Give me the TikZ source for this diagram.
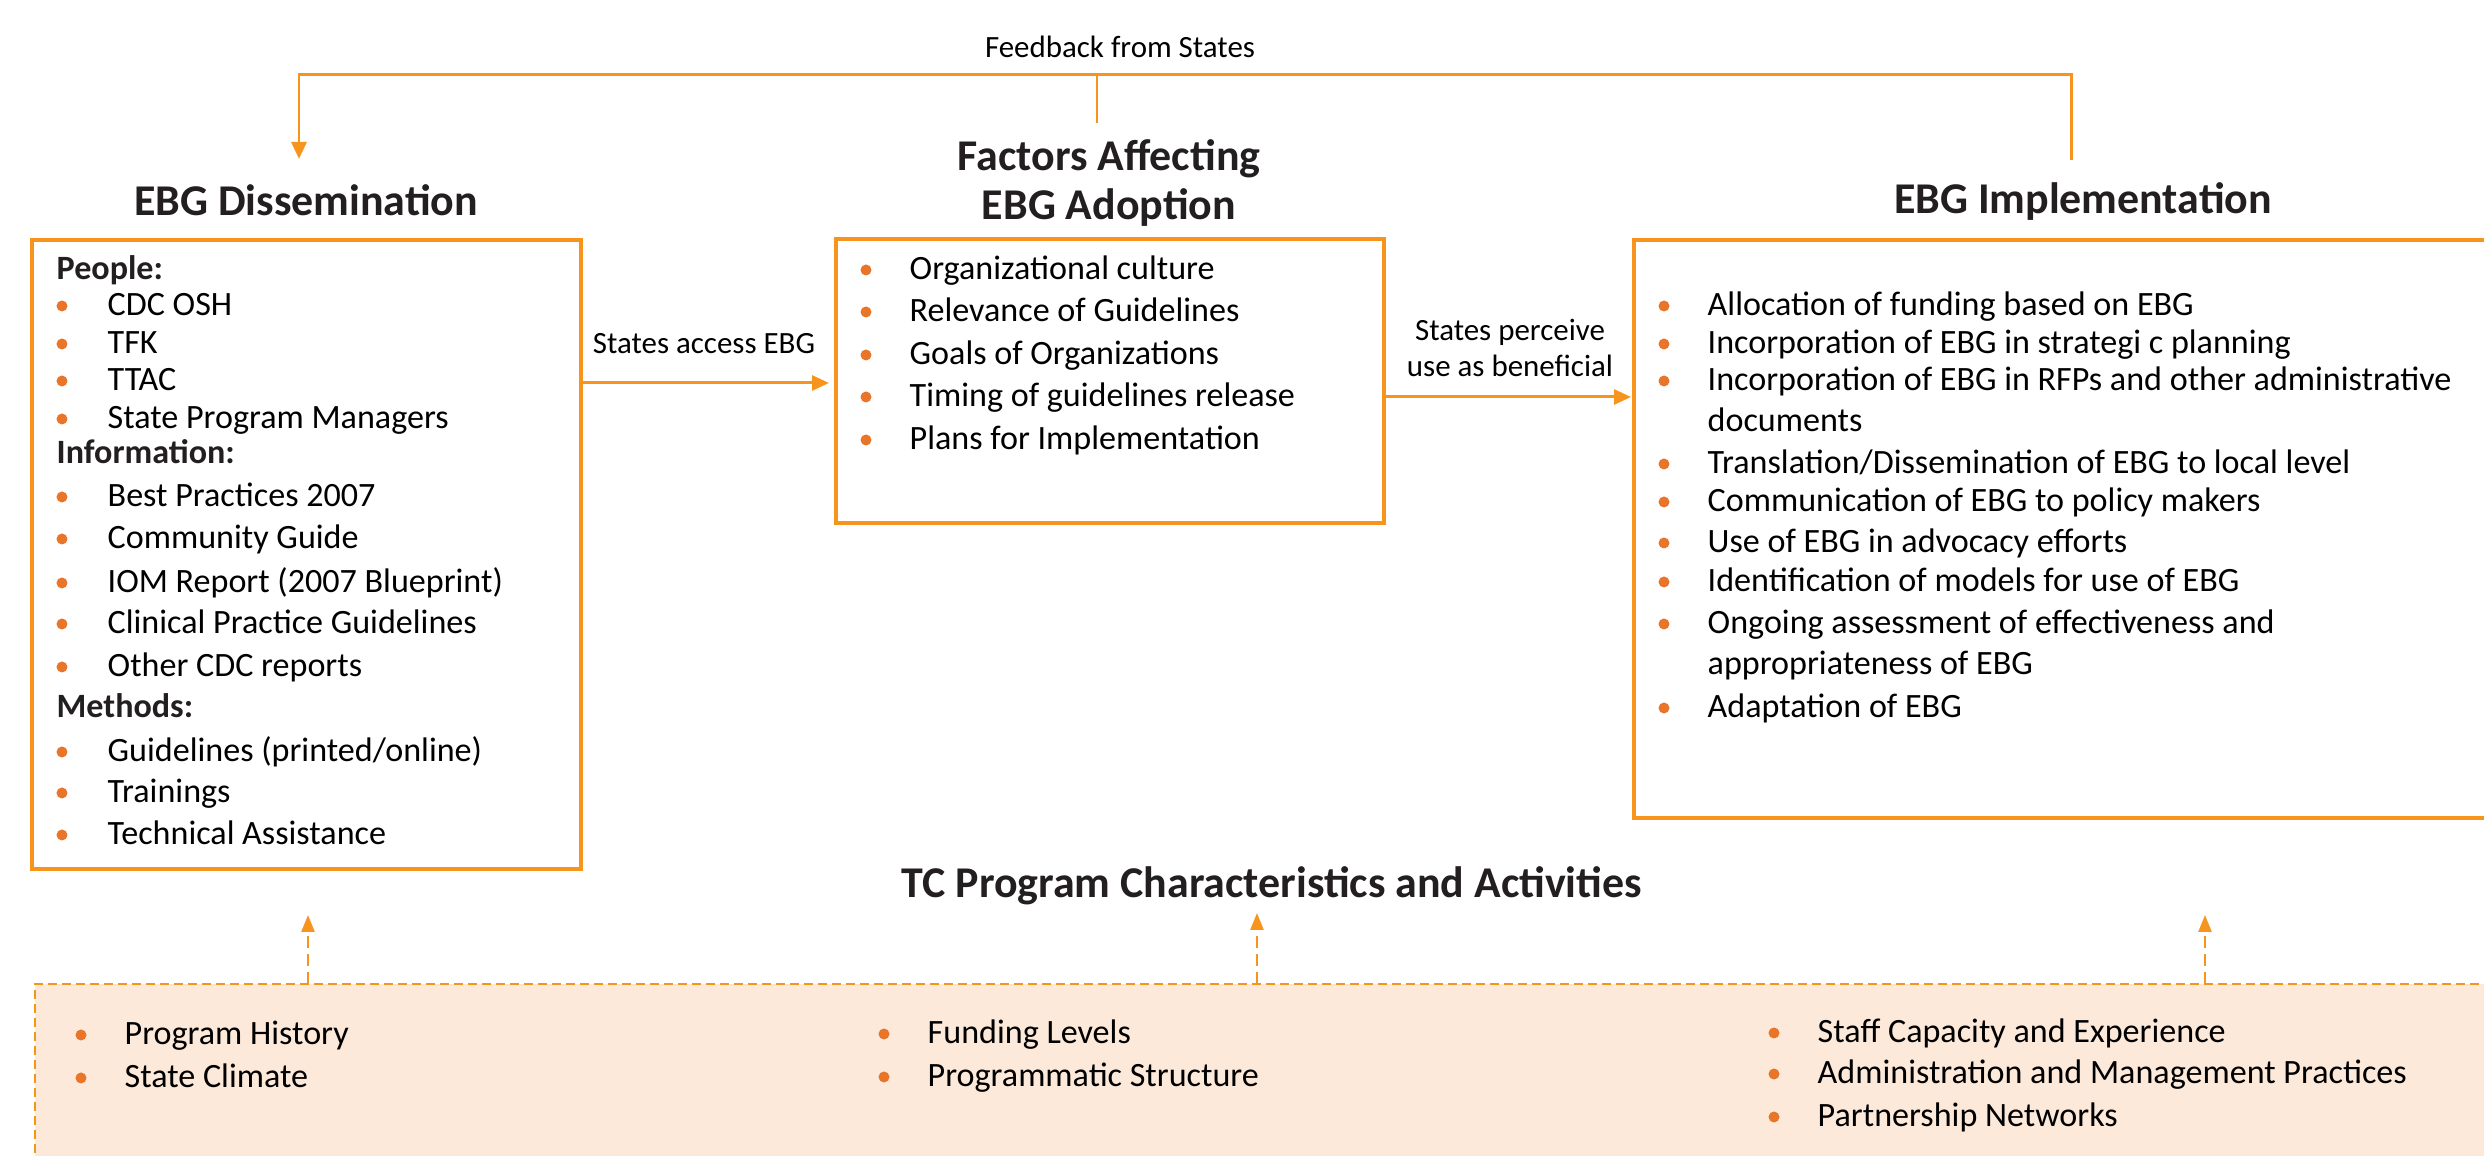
\documentclass[tikz,border=0pt]{standalone}
\usepackage{fontspec}
\setmainfont{Carlito}
\usetikzlibrary{arrows.meta}

\definecolor{ebgorange}{RGB}{247,148,30}
\definecolor{dotorange}{RGB}{232,117,42}
\definecolor{tcfill}{RGB}{252,233,218}
\definecolor{headgray}{RGB}{35,31,32}

\tikzset{
  box/.style={draw=ebgorange, line width=1pt, rectangle, anchor=north west, inner sep=0pt, outer sep=0pt},
  flow/.style={draw=ebgorange, line width=0.85pt, -{Triangle[length=0.17cm,width=0.15cm]}},
  influence/.style={draw=ebgorange, line width=0.75pt, dash pattern=on 0.12cm off 0.06cm,
    -{Triangle[length=0.17cm,width=0.13cm]}},
  heading/.style={font=\fontsize{12.5}{13.9}\selectfont\bfseries, text=headgray, align=center},
  arrowtext/.style={font=\fontsize{8.8}{10.5}\selectfont, align=center},
  listitem/.style={font=\fontsize{9.7}{12}\selectfont, anchor=west, inner sep=0pt,
    text height=0.2cm, text depth=0pt},
  listhead/.style={listitem, font=\fontsize{9.7}{12}\selectfont\bfseries, text=headgray},
  bullet/.style={circle, fill=dotorange, inner sep=0pt, minimum size=0.11cm},
}

\begin{document}
\begin{tikzpicture}
\useasboundingbox (0,0) rectangle (24.84,-11.56);
\clip (0,0) rectangle (24.84,-11.56);

% the three stages
\node[heading] (dissemT) at (3.06,-2.00) {EBG Dissemination};
\node[heading] (adoptT) at (11.09,-1.83) {Factors Affecting\\EBG Adoption};
\node[heading] (implT) at (20.83,-2.02) {EBG Implementation};

\node[box, minimum width=5.49cm, minimum height=6.29cm] (dissem) at (0.32,-2.40) {};
\node[box, minimum width=5.48cm, minimum height=2.84cm] (adopt) at (8.36,-2.39) {};
\node[box, minimum width=9.00cm, minimum height=5.78cm] (impl) at (16.34,-2.40) {};

% dissemination: people, information, methods
\node[listhead] (people) at (0.56,-2.70) {People:};
\node[listhead] (info) at (0.56,-4.54) {Information:};
\node[listhead] (methods) at (0.56,-7.08) {Methods:};
\foreach \y/\t [count=\i] in {3.06/CDC OSH, 3.44/TFK, 3.81/TTAC, 4.19/State Program Managers,
    4.97/Best Practices 2007, 5.39/Community Guide, 5.83/IOM Report (2007 Blueprint),
    6.24/Clinical Practice Guidelines, 6.67/Other CDC reports,
    7.52/{Guidelines (printed/online)}, 7.93/Trainings, 8.35/Technical Assistance}{
  \node[bullet] (disdot\i) at (0.62,-\y) {};
  \node[listitem] (dis\i) at (1.07,-\y) {\t};
}

% adoption factors
\foreach \y/\t [count=\i] in {2.70/Organizational culture, 3.12/Relevance of Guidelines,
    3.55/Goals of Organizations, 3.97/Timing of guidelines release, 4.40/Plans for Implementation}{
  \node[bullet] (adodot\i) at (8.66,-\y) {};
  \node[listitem] (ado\i) at (9.09,-\y) {\t};
}

% implementation activities
\foreach \y [count=\i] in {3.06,3.44,3.81,4.64,5.02,5.43,5.82,6.24,7.08}
  \node[bullet] (impdot\i) at (16.64,-\y) {};
\foreach \y/\t [count=\i] in {3.06/Allocation of funding based on EBG,
    3.44/Incorporation of EBG in strategi c planning,
    3.81/Incorporation of EBG in RFPs and other administrative, 4.22/documents,
    4.64/{Translation/Dissemination of EBG to local level},
    5.02/Communication of EBG to policy makers, 5.43/Use of EBG in advocacy efforts,
    5.82/Identification of models for use of EBG,
    6.24/Ongoing assessment of effectiveness and, 6.65/appropriateness of EBG,
    7.08/Adaptation of EBG}
  \node[listitem] (imp\i) at (17.07,-\y) {\t};

% arrows between the stages
\node[arrowtext] (access) at (7.04,-3.44) {States access EBG};
\draw[flow] (dissem.east |- 0,-3.83) -- ([xshift=-0.07cm]adopt.west |- 0,-3.83);
\node[arrowtext] (perceive) at (15.10,-3.48) {States perceive\\use as beneficial};
\draw[flow] (adopt.east |- 0,-3.97) -- ([xshift=-0.03cm]impl.west |- 0,-3.97);

% feedback loop over the top
\node[arrowtext] (feedback) at (11.20,-0.47) {Feedback from States};
\coordinate (fbR) at (20.71,-1.60);
\coordinate (fbL) at (2.99,-1.59);
\coordinate (fbM) at (10.97,-1.23);
\draw[flow] (fbR) -- (fbR |- 0,-0.75) -| (fbL);
\draw[draw=ebgorange, line width=0.55pt] (fbM) -- (fbM |- 0,-0.75);

% program characteristics underneath
\node[heading] (tcT) at (12.72,-8.86) {TC Program Characteristics and Activities};
\node[box, fill=tcfill, line width=0.75pt, dash pattern=on 0.09cm off 0.05cm,
  minimum width=25cm, minimum height=3cm] (tcbox) at (0.35,-9.84) {};

\foreach \y/\t [count=\i] in {10.35/Program History, 10.78/State Climate}{
  \node[bullet] (tcadot\i) at (0.81,-\y) {};
  \node[listitem] (tca\i) at (1.24,-\y) {\t};
}
\foreach \y/\t [count=\i] in {10.34/Funding Levels, 10.77/Programmatic Structure}{
  \node[bullet] (tcbdot\i) at (8.84,-\y) {};
  \node[listitem] (tcb\i) at (9.27,-\y) {\t};
}
\foreach \y/\t [count=\i] in {10.33/Staff Capacity and Experience,
    10.74/Administration and Management Practices, 11.17/Partnership Networks}{
  \node[bullet] (tccdot\i) at (17.74,-\y) {};
  \node[listitem] (tcc\i) at (18.17,-\y) {\t};
}

\coordinate (upL) at (3.08,-9.15);
\coordinate (upM) at (12.57,-9.13);
\coordinate (upR) at (22.05,-9.15);
\foreach \c in {upL,upM,upR}
  \draw[influence] (\c |- tcbox.north) -- (\c);
\end{tikzpicture}
\end{document}
